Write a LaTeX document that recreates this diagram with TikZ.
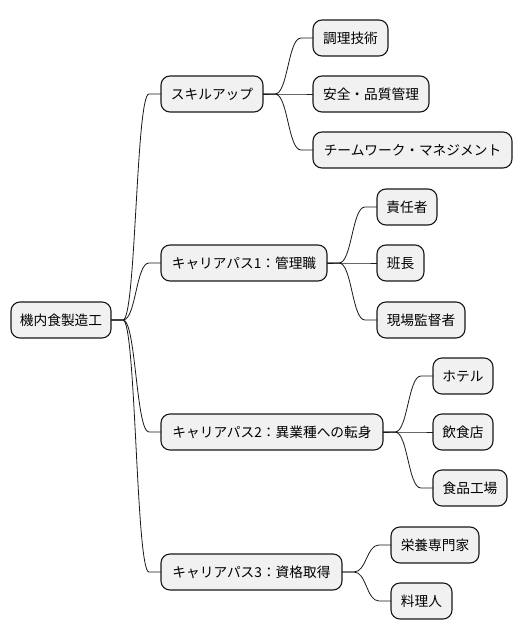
\documentclass[tikz,border=0pt]{standalone}
\usepackage{fontspec}
\setmainfont{Noto Sans CJK JP}
\usetikzlibrary{calc}
\definecolor{mmline}{HTML}{181818}
\definecolor{mmfill}{HTML}{F1F1F1}
\newcommand\mmlink[2]{\draw[mmconn] let \p1=(#1.east), \p2=(#2.west) in (\p1) -- (\x1+12pt,\y1) .. controls (\x1/2+\x2/2,\y1) and (\x1/2+\x2/2,\y2) .. (\x2-12pt,\y2) -- (\p2);}
\begin{document}
\begin{tikzpicture}[x=1pt,y=-1pt,
  mmbox/.style={draw=mmline,fill=mmfill,line width=1.1pt,rounded corners=9pt,
    minimum height=36pt,inner xsep=8pt,inner ysep=0pt,outer sep=0pt,anchor=west,
    font=\fontsize{13.7}{16}\selectfont},
  mmconn/.style={draw=mmline,line width=0.8pt}]
\useasboundingbox (0,0) rectangle (530,640);
\node[mmbox,minimum width=100pt] (root) at (11,320) {機内食製造工};
\node[mmbox,minimum width=102pt] (n1) at (161,94) {スキルアップ};
\node[mmbox,minimum width=166pt] (n2) at (161,263) {キャリアパス1：管理職};
\node[mmbox,minimum width=222pt] (n3) at (161,432) {キャリアパス2：異業種への転身};
\node[mmbox,minimum width=181pt] (n4) at (161,572) {キャリアパス3：資格取得};
\node[mmbox,minimum width=75pt] (a1) at (313,38) {調理技術};
\node[mmbox,minimum width=116pt] (a2) at (313,94) {安全・品質管理};
\node[mmbox,minimum width=199pt] (a3) at (313,150) {チームワーク・マネジメント};
\node[mmbox,minimum width=60pt] (b1) at (377,207) {責任者};
\node[mmbox,minimum width=47pt] (b2) at (377,263) {班長};
\node[mmbox,minimum width=88pt] (b3) at (377,320) {現場監督者};
\node[mmbox,minimum width=60pt] (c1) at (433,376) {ホテル};
\node[mmbox,minimum width=60pt] (c2) at (433,432) {飲食店};
\node[mmbox,minimum width=74pt] (c3) at (433,488) {食品工場};
\node[mmbox,minimum width=88pt] (d1) at (391,545) {栄養専門家};
\node[mmbox,minimum width=61pt] (d2) at (391,601) {料理人};
\mmlink{root}{n1}
\mmlink{root}{n2}
\mmlink{root}{n3}
\mmlink{root}{n4}
\mmlink{n1}{a1}
\mmlink{n1}{a2}
\mmlink{n1}{a3}
\mmlink{n2}{b1}
\mmlink{n2}{b2}
\mmlink{n2}{b3}
\mmlink{n3}{c1}
\mmlink{n3}{c2}
\mmlink{n3}{c3}
\mmlink{n4}{d1}
\mmlink{n4}{d2}
\end{tikzpicture}
\end{document}
